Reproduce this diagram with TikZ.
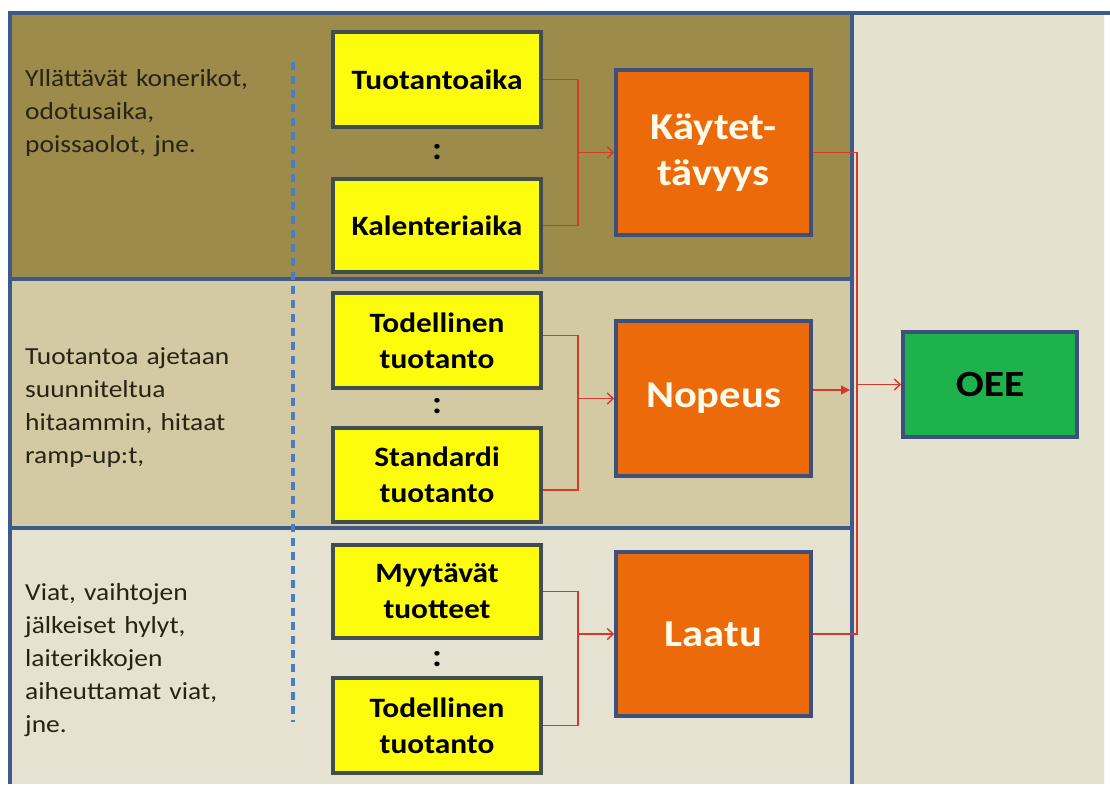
\documentclass[tikz,border=0pt]{standalone}
\usepackage{fontspec}
\setmainfont{Carlito}[FakeStretch=1.12]
\usetikzlibrary{arrows.meta,calc}

\definecolor{bandA}{HTML}{9C8B4B}
\definecolor{bandB}{HTML}{D3C9A2}
\definecolor{bandC}{HTML}{E6E2D1}
\definecolor{sidepanel}{HTML}{E5E1CF}
\definecolor{frameblue}{HTML}{3D5A8A}
\definecolor{dashblue}{HTML}{4A7EC2}
\definecolor{boxyellow}{HTML}{FCFC0C}
\definecolor{yellowedge}{HTML}{414D4F}
\definecolor{boxorange}{HTML}{EC6A0A}
\definecolor{orangeedge}{HTML}{3D507C}
\definecolor{boxgreen}{HTML}{1EB24C}
\definecolor{linkred}{HTML}{D6382C}
\definecolor{inktext}{HTML}{272414}
\definecolor{creamtext}{HTML}{FFFBEA}

\tikzset{
  framepen/.style={draw=frameblue, line width=3.5pt},
  inbox/.style={rectangle, fill=boxyellow, draw=yellowedge, line width=3.5pt,
    minimum width=208pt, align=center, inner sep=0pt,
    font=\bfseries\fontsize{28}{36}\selectfont, text=black},
  kpibox/.style={rectangle, fill=boxorange, draw=orangeedge, line width=3.5pt,
    minimum width=195pt, align=center, inner sep=0pt,
    font=\bfseries\fontsize{38}{46}\selectfont, text=creamtext},
  resultbox/.style={rectangle, fill=boxgreen, draw=orangeedge, line width=3.5pt,
    minimum width=174pt, minimum height=105pt, inner sep=0pt,
    font=\bfseries\fontsize{37}{44}\selectfont, text=black},
  causetext/.style={anchor=base west, inner sep=0pt, text width=265pt,
    align=left, font=\fontsize{24.5}{33}\selectfont, text=inktext},
  ratio/.style={inner sep=0pt, font=\bfseries\fontsize{32}{32}\selectfont},
  link/.style={draw=linkred, line width=1.4pt},
  linkto/.style={link, -{Straight Barb[length=6pt,width=11pt,line width=1.4pt]}},
}

\begin{document}
\begin{tikzpicture}[x=1pt, y=-1pt]
\useasboundingbox (0,0) rectangle (1110,784);
\fill[white] (0,0) rectangle (1110,784);

% background bands and side panel
\fill[bandA] (10,13) rectangle (852,279);
\fill[bandB] (10,279) rectangle (852,528);
\fill[bandC] (10,528) rectangle (852,784);
\fill[sidepanel] (852,13) rectangle (1104,784);
\draw[white!80!sidepanel, line width=1pt] (1104,15) -- (1104,784);

% frame lines
\draw[framepen] (10,784) -- (10,13) -- (1110,13);
\draw[framepen] (10,279) -- (852,279);
\draw[framepen] (10,528) -- (852,528);
\draw[framepen] (852,13) -- (852,784);

% dashed separator
\draw[dashblue, line width=3.5pt, dash pattern=on 8pt off 6pt] (293,62) -- (293,722);

% cause descriptions
\node[causetext] (c1) at (25,86) {Yllättävät konerikot,\\odotusaika,\\poissaolot, jne.};
\node[causetext] (c2) at (25,364) {Tuotantoa ajetaan\\suunniteltua\\hitaammin, hitaat\\ramp-up:t,};
\node[causetext] (c3) at (25,600) {Viat, vaihtojen\\jälkeiset hylyt,\\laiterikkojen\\aiheuttamat viat,\\jne.};

% input quantities
\node[inbox, minimum height=95pt] (tuot) at (437,79.5) {Tuotantoaika};
\node[inbox, minimum height=93pt] (kal)  at (437,225.5) {Kalenteriaika};
\node[inbox, minimum height=95pt] (tod1) at (437,340.5) {Todellinen\\tuotanto};
\node[inbox, minimum height=94pt] (std)  at (437,475) {Standardi\\tuotanto};
\node[inbox, minimum height=93pt] (myy)  at (437,591.5) {Myytävät\\tuotteet};
\node[inbox, minimum height=95pt] (tod2) at (437,725.5) {Todellinen\\tuotanto};

% ratio marks
\node[ratio] (r1) at (437,152) {:};
\node[ratio] (r2) at (437,406) {:};
\node[ratio] (r3) at (437,659) {:};

% OEE factors
\node[kpibox, minimum height=165pt] (kay) at (713.5,152.5) {Käytet-\\tävyys};
\node[kpibox, minimum height=155pt] (nop) at (713.5,398.5) {\raisebox{-4pt}{Nopeus}};
\node[kpibox, minimum height=164pt] (laa) at (713.5,634) {Laatu};

% result
\node[resultbox] (oee) at (990,384.5) {OEE};

% junctions
\coordinate (j1) at (578,152.5);
\coordinate (j2) at (578,398.5);
\coordinate (j3) at (578,634);
\coordinate (bus) at (857,0);
\coordinate (wall) at (850,0);

\draw[link] (tuot.east) -| (j1);
\draw[link] (kal.east) -| (j1);
\draw[linkto] (j1) -- (kay.west);

\coordinate (tod1out) at ($(tod1.east)+(0,-5)$);
\coordinate (stdout) at ($(std.east)+(0,15)$);
\draw[link] (tod1out) -| (j2);
\draw[link] (stdout) -| (j2);
\draw[linkto] (j2) -- (nop.west);

\draw[link] (myy.east) -| (j3);
\draw[link] (tod2.east) -| (j3);
\draw[linkto] (j3) -- (laa.west);

% collecting line towards OEE
\draw[link, line width=1.1pt] (kay.east) -- (kay.east -| bus) -- (laa.east -| bus) -- (laa.east);
\coordinate (nopout) at ($(nop.east)+(0,-8.5)$);
\draw[link, -{Triangle[length=9pt,width=9pt]}] (nopout) -- (nopout -| wall);
\draw[linkto] (oee.west -| bus) -- (oee.west);
\end{tikzpicture}
\end{document}
